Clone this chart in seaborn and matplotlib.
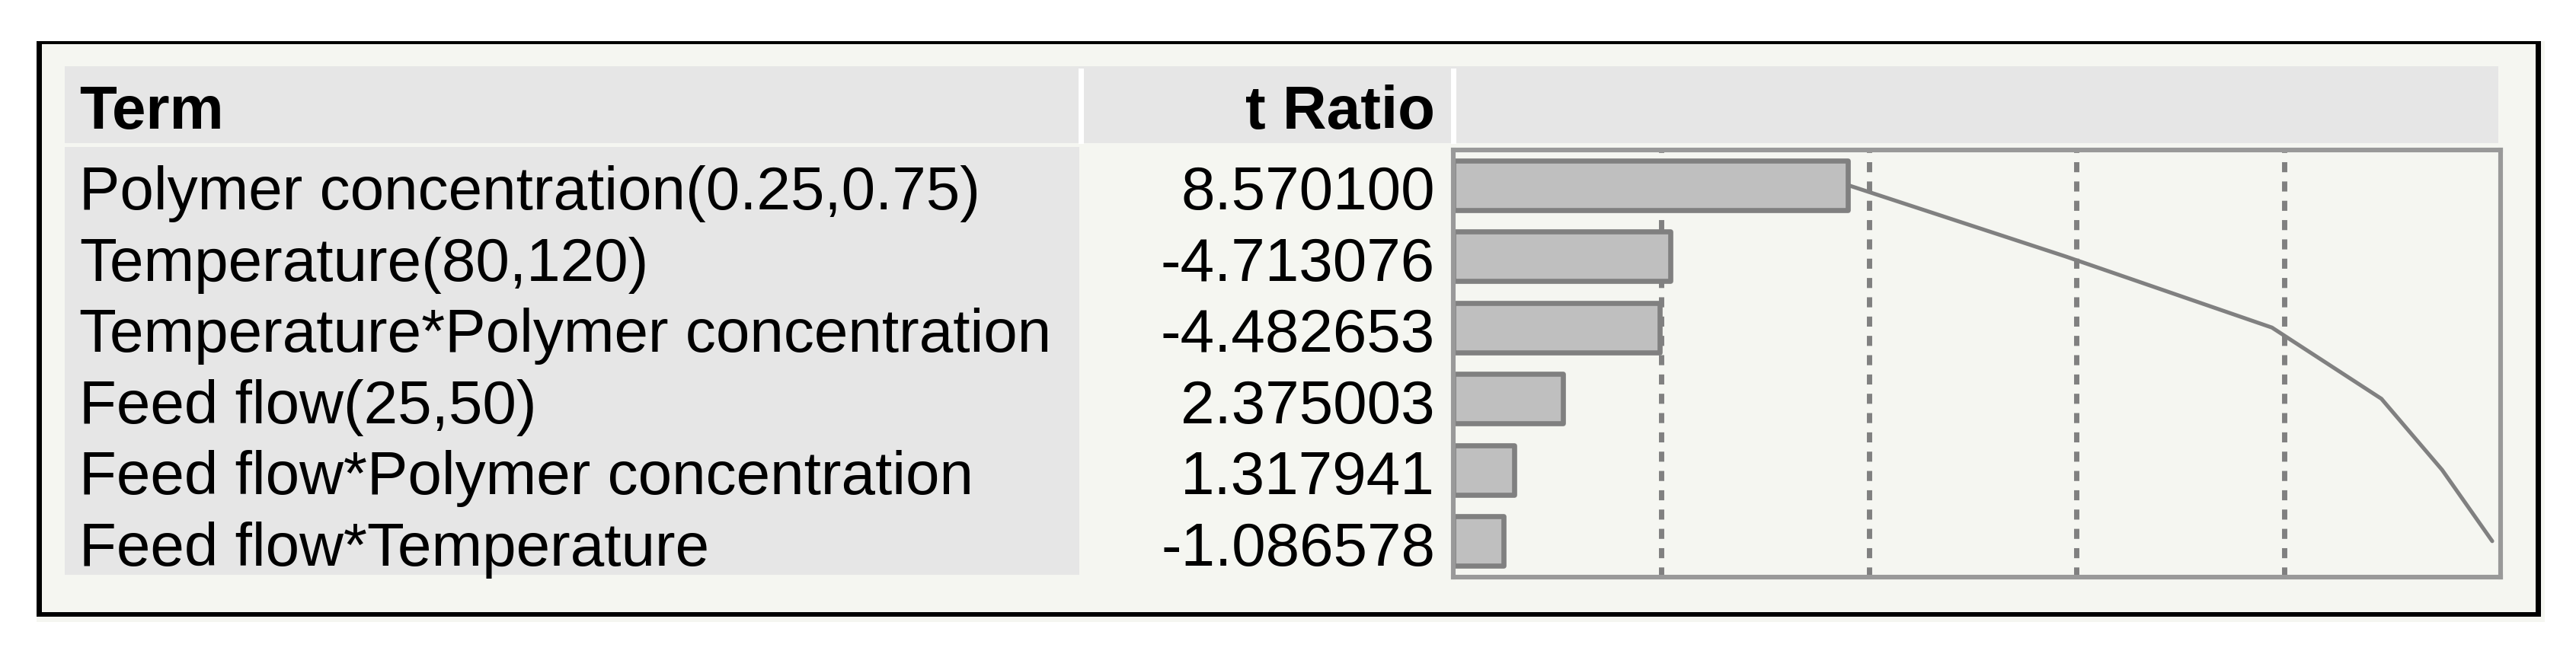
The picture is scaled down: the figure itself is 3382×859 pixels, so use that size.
import numpy as np
import pandas as pd
import matplotlib
matplotlib.use("Agg")
import matplotlib.pyplot as plt
import matplotlib.transforms as mtransforms
from matplotlib.patches import Rectangle
import seaborn as sns

# ---- data ----
terms = [
    "Polymer concentration(0.25,0.75)",
    "Temperature(80,120)",
    "Temperature*Polymer concentration",
    "Feed flow(25,50)",
    "Feed flow*Polymer concentration",
    "Feed flow*Temperature",
]
t_ratio = [8.570100, -4.713076, -4.482653, 2.375003, 1.317941, -1.086578]
header_term = "Term"
header_t = "t Ratio"

abs_t = np.abs(np.array(t_ratio))
cum_t = np.cumsum(abs_t)
total = cum_t[-1]
df = pd.DataFrame({"Term": terms, "abs_t": abs_t})

# ---- style ----
sns.set_theme(style="white")
plt.rcParams["font.family"] = ["Liberation Sans", "DejaVu Sans"]

OFF = "#F5F6F1"
GRAYBG = "#E6E6E6"
BAR_FILL = "#BFBFBF"
BAR_EDGE = "#808080"
BORDER = "#999999"
GRID = "#808080"
FS = 57.6  # 80 px at 100 dpi

W, H = 3382, 859
fig = plt.figure(figsize=(W / 100, H / 100), dpi=100)
fig.patch.set_facecolor("white")

bg = fig.add_axes([0, 0, 1, 1], zorder=0)
bg.set_xlim(0, W)
bg.set_ylim(H, 0)
bg.axis("off")


def rect(x0, y0, x1, y1, color):
    bg.add_patch(Rectangle((x0, y0), x1 - x0, y1 - y0, facecolor=color,
                           edgecolor="none"))


rect(48, 54, 3341, 817, OFF)
rect(48, 54, 3336, 810, "black")
rect(55, 57.5, 3329, 804, OFF)
rect(85, 87, 3280, 188, GRAYBG)
rect(1416, 90, 1423, 189, "white")
rect(1905, 90, 1912, 189, "white")
rect(85, 193, 1417, 755, GRAYBG)

# ---- bar chart axes ----
ax_l, ax_r, ax_t, ax_b = 1908, 3282.5, 196.5, 757.5
ax = fig.add_axes([ax_l / W, 1 - ax_b / H, (ax_r - ax_l) / W, (ax_b - ax_t) / H],
                  zorder=1)
ax.set_facecolor(OFF)

for f in [0.2, 0.4, 0.6, 0.8]:
    ax.axvline(total * f, color=GRID, lw=5.0, ls=(0, (1.9, 1.75)), zorder=0.5)

sns.barplot(data=df, x="abs_t", y="Term", orient="h", color=BAR_FILL,
            saturation=1, edgecolor=BAR_EDGE, linewidth=4.8, width=0.69,
            errorbar=None, ax=ax, zorder=2)
for p in ax.patches:
    p.set_joinstyle("round")

sns.lineplot(x=cum_t, y=np.arange(len(terms)), sort=False, estimator=None,
             color=BAR_EDGE, lw=3.7, ax=ax, zorder=3)

ax.set_xlim(0, total * 1.0077)
ax.set_ylim(len(terms) - 0.5, -0.5)
ax.set_xticks([])
ax.set_yticks([])
ax.set_xlabel("")
ax.set_ylabel("")
for s in ax.spines.values():
    s.set_visible(True)
    s.set_color(BORDER)
    s.set_linewidth(4.4)
    s.set_zorder(4)

# ---- table text ----
bg.text(104, 169, header_term, fontsize=FS, fontweight="bold", ha="left",
        va="baseline", color="black")
bg.text(1884, 169, header_t, fontsize=FS, fontweight="bold", ha="right",
        va="baseline", color="black")

trans = mtransforms.blended_transform_factory(bg.transData, ax.transData)
trans = mtransforms.offset_copy(trans, fig=fig, y=-32, units="dots")
for i, (term, t) in enumerate(zip(terms, t_ratio)):
    bg.text(104, i, term, fontsize=FS, ha="left", va="baseline",
            color="black", transform=trans)
    bg.text(1884, i, f"{t:.6f}", fontsize=FS, ha="right", va="baseline",
            color="black", transform=trans)

fig.savefig("out.png", dpi=100, facecolor="white")
